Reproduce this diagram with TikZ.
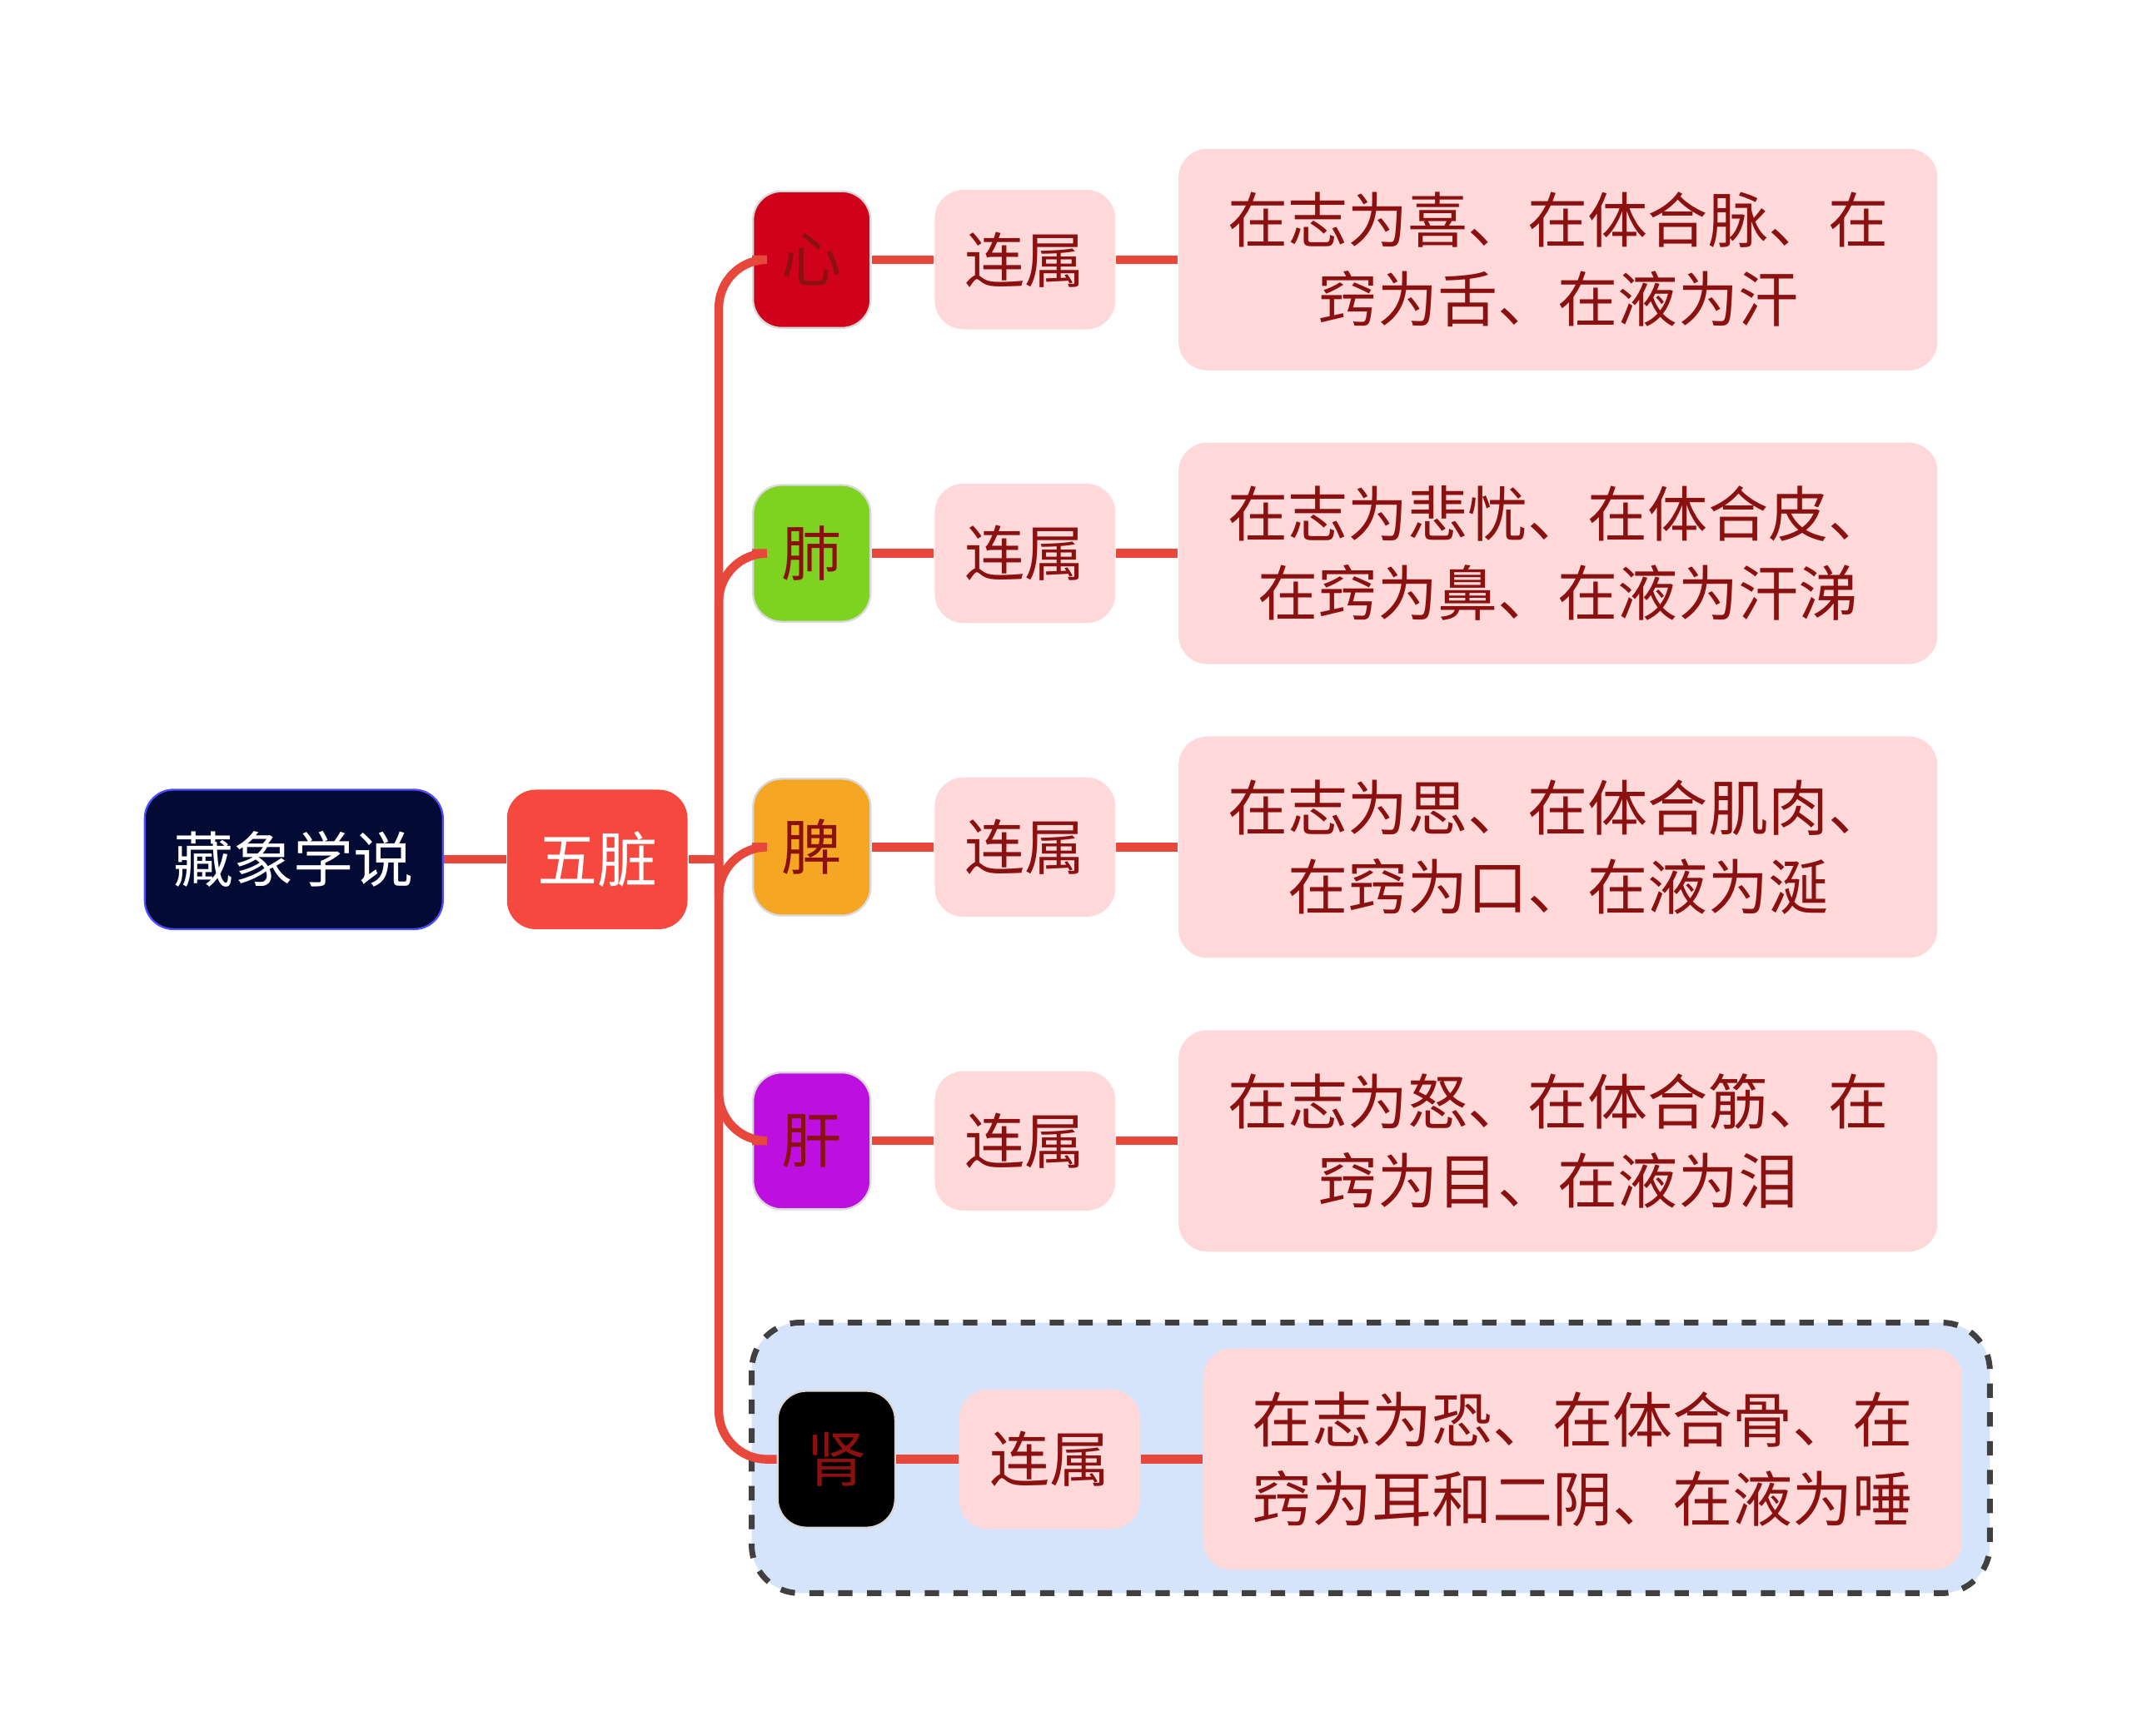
\documentclass[tikz,border=0pt]{standalone}
\usepackage{fontspec}
\setmainfont{Noto Sans CJK SC}
\usetikzlibrary{positioning}
\definecolor{linered}{HTML}{E8483C}
\definecolor{navy}{HTML}{030A33}
\definecolor{wzred}{HTML}{F5483E}
\definecolor{xinred}{HTML}{D0021B}
\definecolor{feigreen}{HTML}{7ED321}
\definecolor{piorange}{HTML}{F5A623}
\definecolor{ganpurple}{HTML}{BD10E0}
\definecolor{softpink}{HTML}{FFD9D9}
\definecolor{darkred}{HTML}{8B1010}
\definecolor{groupblue}{HTML}{D5E3FB}

\tikzset{
  base/.style={rounded corners=6pt, inner sep=0pt, align=center, font=\fontsize{12.5}{16.5}\selectfont},
  organ/.style={base, minimum width=0.86cm, minimum height=1.0cm, text=darkred, draw=white!85!black, line width=0.4pt},
  relbox/.style={base, fill=softpink, text=darkred, minimum width=1.32cm, minimum height=1.02cm},
  infobox/.style={base, fill=softpink, text=darkred, minimum width=5.55cm, minimum height=1.62cm},
  link/.style={draw=linered, line width=1.8pt}
}

\begin{document}
\begin{tikzpicture}[x=0.01cm, y=-0.01cm]
\useasboundingbox (4,0) rectangle (1564,1270);

%% group frame
\draw[dashed, rounded corners=10pt, fill=groupblue, draw=black!75, line width=1.2pt] (554,968) rectangle (1460,1166);

\node[base, fill=navy, draw=blue!70!white, text=white, minimum width=2.18cm, minimum height=1.02cm] (root) at (219,629) {藏象学说};
\node[base, fill=wzred, text=white, minimum width=1.32cm, minimum height=1.02cm] (wz) at (441,629) {五脏};
\coordinate (trunk) at (530,629);

\node[organ, fill=xinred] (xin) at (598,190) {心};
\node[organ, fill=feigreen] (fei) at (598,405) {肺};
\node[organ, fill=piorange] (pi) at (598,620) {脾};
\node[organ, fill=ganpurple] (gan) at (598,835) {肝};
\node[organ, fill=black] (shen) at (616,1068) {肾};

\foreach \o/\x/\y in {xin/754/190, fei/754/405, pi/754/620, gan/754/835, shen/772/1068}{
  \node[relbox] (rel-\o) at (\x,\y) {连属};
}

\node[infobox] (info-xin) at (1144,190) {在志为喜、在体合脉、在\\窍为舌、在液为汗};
\node[infobox] (info-fei) at (1144,405) {在志为悲忧、在体合皮、\\在窍为鼻、在液为汗涕};
\node[infobox] (info-pi) at (1144,620) {在志为思、在体合肌肉、\\在窍为口、在液为涎};
\node[infobox] (info-gan) at (1144,835) {在志为怒、在体合筋、在\\窍为目、在液为泪};
\node[infobox] (info-shen) at (1162,1068) {在志为恐、在体合骨、在\\窍为耳和二阴、在液为唾};

\draw[link] (root.east) -- (wz.west);
\draw[link] (wz.east) -- (trunk);
\foreach \o in {xin, fei, pi, gan, shen}{
  \draw[link, rounded corners=10pt] (trunk) |- (\o.west);
  \draw[link] (\o.east) -- (rel-\o.west);
  \draw[link] (rel-\o.east) -- (info-\o.west);
}
\end{tikzpicture}
\end{document}
